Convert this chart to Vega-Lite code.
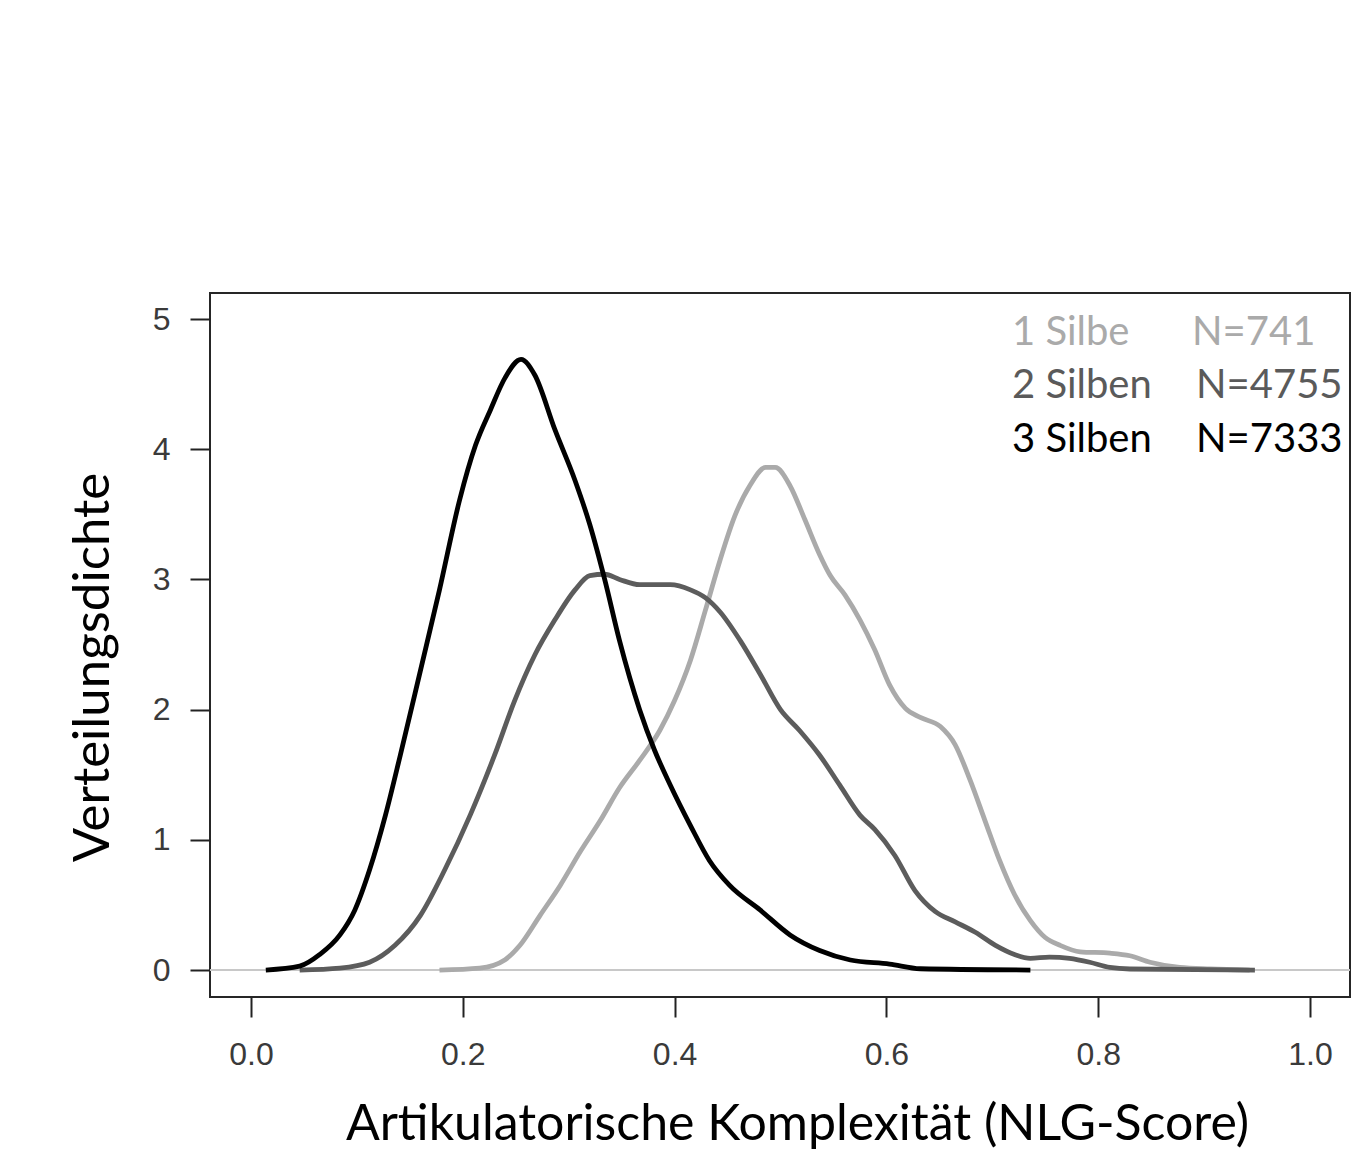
{
  "$schema": "https://vega.github.io/schema/vega-lite/v6.json",
  "width": 1140,
  "height": 704,
  "autosize": {"type": "none"},
  "padding": {"left": 210, "top": 293, "right": 2, "bottom": 155},
  "background": "white",
  "config": {
    "view": {"stroke": "#262626", "strokeWidth": 2},
    "axis": {"grid": false, "domain": false}
  },
  "datasets": {
    "curves": [
      {"x": 0.178, "y": 0, "g": "1 Silbe"},
      {"x": 0.216, "y": 0.015, "g": "1 Silbe"},
      {"x": 0.240, "y": 0.08, "g": "1 Silbe"},
      {"x": 0.254, "y": 0.19, "g": "1 Silbe"},
      {"x": 0.273, "y": 0.42, "g": "1 Silbe"},
      {"x": 0.292, "y": 0.65, "g": "1 Silbe"},
      {"x": 0.311, "y": 0.91, "g": "1 Silbe"},
      {"x": 0.330, "y": 1.15, "g": "1 Silbe"},
      {"x": 0.348, "y": 1.40, "g": "1 Silbe"},
      {"x": 0.367, "y": 1.61, "g": "1 Silbe"},
      {"x": 0.386, "y": 1.84, "g": "1 Silbe"},
      {"x": 0.400, "y": 2.07, "g": "1 Silbe"},
      {"x": 0.415, "y": 2.38, "g": "1 Silbe"},
      {"x": 0.429, "y": 2.76, "g": "1 Silbe"},
      {"x": 0.443, "y": 3.15, "g": "1 Silbe"},
      {"x": 0.457, "y": 3.49, "g": "1 Silbe"},
      {"x": 0.471, "y": 3.72, "g": "1 Silbe"},
      {"x": 0.486, "y": 3.86, "g": "1 Silbe"},
      {"x": 0.495, "y": 3.86, "g": "1 Silbe"},
      {"x": 0.509, "y": 3.72, "g": "1 Silbe"},
      {"x": 0.523, "y": 3.46, "g": "1 Silbe"},
      {"x": 0.537, "y": 3.19, "g": "1 Silbe"},
      {"x": 0.547, "y": 3.03, "g": "1 Silbe"},
      {"x": 0.561, "y": 2.88, "g": "1 Silbe"},
      {"x": 0.575, "y": 2.69, "g": "1 Silbe"},
      {"x": 0.589, "y": 2.46, "g": "1 Silbe"},
      {"x": 0.603, "y": 2.19, "g": "1 Silbe"},
      {"x": 0.618, "y": 2.01, "g": "1 Silbe"},
      {"x": 0.632, "y": 1.94, "g": "1 Silbe"},
      {"x": 0.651, "y": 1.87, "g": "1 Silbe"},
      {"x": 0.665, "y": 1.73, "g": "1 Silbe"},
      {"x": 0.679, "y": 1.46, "g": "1 Silbe"},
      {"x": 0.693, "y": 1.15, "g": "1 Silbe"},
      {"x": 0.707, "y": 0.84, "g": "1 Silbe"},
      {"x": 0.721, "y": 0.58, "g": "1 Silbe"},
      {"x": 0.736, "y": 0.38, "g": "1 Silbe"},
      {"x": 0.750, "y": 0.25, "g": "1 Silbe"},
      {"x": 0.764, "y": 0.19, "g": "1 Silbe"},
      {"x": 0.783, "y": 0.14, "g": "1 Silbe"},
      {"x": 0.811, "y": 0.13, "g": "1 Silbe"},
      {"x": 0.830, "y": 0.11, "g": "1 Silbe"},
      {"x": 0.849, "y": 0.06, "g": "1 Silbe"},
      {"x": 0.877, "y": 0.02, "g": "1 Silbe"},
      {"x": 0.906, "y": 0.008, "g": "1 Silbe"},
      {"x": 0.943, "y": 0, "g": "1 Silbe"},

      {"x": 0.046, "y": 0, "g": "2 Silben"},
      {"x": 0.084, "y": 0.015, "g": "2 Silben"},
      {"x": 0.112, "y": 0.06, "g": "2 Silben"},
      {"x": 0.136, "y": 0.19, "g": "2 Silben"},
      {"x": 0.160, "y": 0.42, "g": "2 Silben"},
      {"x": 0.183, "y": 0.77, "g": "2 Silben"},
      {"x": 0.207, "y": 1.19, "g": "2 Silben"},
      {"x": 0.230, "y": 1.65, "g": "2 Silben"},
      {"x": 0.249, "y": 2.07, "g": "2 Silben"},
      {"x": 0.268, "y": 2.42, "g": "2 Silben"},
      {"x": 0.287, "y": 2.69, "g": "2 Silben"},
      {"x": 0.306, "y": 2.92, "g": "2 Silben"},
      {"x": 0.320, "y": 3.03, "g": "2 Silben"},
      {"x": 0.334, "y": 3.04, "g": "2 Silben"},
      {"x": 0.348, "y": 3.00, "g": "2 Silben"},
      {"x": 0.367, "y": 2.96, "g": "2 Silben"},
      {"x": 0.396, "y": 2.96, "g": "2 Silben"},
      {"x": 0.415, "y": 2.92, "g": "2 Silben"},
      {"x": 0.429, "y": 2.86, "g": "2 Silben"},
      {"x": 0.443, "y": 2.75, "g": "2 Silben"},
      {"x": 0.462, "y": 2.53, "g": "2 Silben"},
      {"x": 0.481, "y": 2.27, "g": "2 Silben"},
      {"x": 0.500, "y": 2.00, "g": "2 Silben"},
      {"x": 0.518, "y": 1.84, "g": "2 Silben"},
      {"x": 0.537, "y": 1.65, "g": "2 Silben"},
      {"x": 0.556, "y": 1.42, "g": "2 Silben"},
      {"x": 0.575, "y": 1.19, "g": "2 Silben"},
      {"x": 0.589, "y": 1.08, "g": "2 Silben"},
      {"x": 0.608, "y": 0.88, "g": "2 Silben"},
      {"x": 0.627, "y": 0.61, "g": "2 Silben"},
      {"x": 0.646, "y": 0.45, "g": "2 Silben"},
      {"x": 0.665, "y": 0.37, "g": "2 Silben"},
      {"x": 0.684, "y": 0.29, "g": "2 Silben"},
      {"x": 0.703, "y": 0.19, "g": "2 Silben"},
      {"x": 0.721, "y": 0.12, "g": "2 Silben"},
      {"x": 0.736, "y": 0.09, "g": "2 Silben"},
      {"x": 0.754, "y": 0.10, "g": "2 Silben"},
      {"x": 0.773, "y": 0.09, "g": "2 Silben"},
      {"x": 0.792, "y": 0.06, "g": "2 Silben"},
      {"x": 0.811, "y": 0.02, "g": "2 Silben"},
      {"x": 0.830, "y": 0.008, "g": "2 Silben"},
      {"x": 0.948, "y": 0, "g": "2 Silben"},

      {"x": 0.014, "y": 0, "g": "3 Silben"},
      {"x": 0.046, "y": 0.03, "g": "3 Silben"},
      {"x": 0.065, "y": 0.12, "g": "3 Silben"},
      {"x": 0.084, "y": 0.27, "g": "3 Silben"},
      {"x": 0.098, "y": 0.46, "g": "3 Silben"},
      {"x": 0.112, "y": 0.77, "g": "3 Silben"},
      {"x": 0.127, "y": 1.19, "g": "3 Silben"},
      {"x": 0.141, "y": 1.65, "g": "3 Silben"},
      {"x": 0.160, "y": 2.30, "g": "3 Silben"},
      {"x": 0.178, "y": 2.92, "g": "3 Silben"},
      {"x": 0.197, "y": 3.61, "g": "3 Silben"},
      {"x": 0.212, "y": 4.03, "g": "3 Silben"},
      {"x": 0.226, "y": 4.30, "g": "3 Silben"},
      {"x": 0.240, "y": 4.55, "g": "3 Silben"},
      {"x": 0.255, "y": 4.69, "g": "3 Silben"},
      {"x": 0.268, "y": 4.57, "g": "3 Silben"},
      {"x": 0.287, "y": 4.15, "g": "3 Silben"},
      {"x": 0.306, "y": 3.76, "g": "3 Silben"},
      {"x": 0.320, "y": 3.42, "g": "3 Silben"},
      {"x": 0.334, "y": 3.00, "g": "3 Silben"},
      {"x": 0.348, "y": 2.53, "g": "3 Silben"},
      {"x": 0.367, "y": 2.00, "g": "3 Silben"},
      {"x": 0.381, "y": 1.69, "g": "3 Silben"},
      {"x": 0.396, "y": 1.42, "g": "3 Silben"},
      {"x": 0.415, "y": 1.11, "g": "3 Silben"},
      {"x": 0.433, "y": 0.84, "g": "3 Silben"},
      {"x": 0.452, "y": 0.65, "g": "3 Silben"},
      {"x": 0.481, "y": 0.46, "g": "3 Silben"},
      {"x": 0.509, "y": 0.27, "g": "3 Silben"},
      {"x": 0.537, "y": 0.15, "g": "3 Silben"},
      {"x": 0.566, "y": 0.077, "g": "3 Silben"},
      {"x": 0.603, "y": 0.046, "g": "3 Silben"},
      {"x": 0.632, "y": 0.01, "g": "3 Silben"},
      {"x": 0.736, "y": 0, "g": "3 Silben"}
    ]
  },
  "layer": [
    {
      "data": {"values": [{}]},
      "mark": {"type": "rule", "color": "#c8c8c8", "strokeWidth": 2},
      "encoding": {"y": {"datum": 0, "type": "quantitative"}}
    },
    {
      "data": {"name": "curves"},
      "mark": {"type": "line", "strokeWidth": 4.8, "interpolate": "monotone"},
      "encoding": {
        "x": {
          "field": "x", "type": "quantitative",
          "scale": {"domain": [-0.0387, 1.0378], "nice": false, "zero": false},
          "axis": {
            "values": [0, 0.2, 0.4, 0.6, 0.8, 1.0], "format": ".1f",
            "tickSize": 20, "tickWidth": 2, "tickColor": "#222",
            "labelFont": "Liberation Sans", "labelFontSize": 32, "labelColor": "#3a3a3a",
            "labelPadding": 22,
            "title": "Artikulatorische Komplexität (NLG-Score)",
            "titleFont": "Lato", "titleFontSize": 50, "titleFontWeight": "normal", "titleColor": "#000",
            "titleBaseline": "alphabetic", "titleX": 587, "titleY": 142, "titleAnchor": "middle", "titleAlign": "center"
          }
        },
        "y": {
          "field": "y", "type": "quantitative",
          "scale": {"domain": [-0.207, 5.2], "nice": false, "zero": false},
          "axis": {
            "values": [0, 1, 2, 3, 4, 5], "format": "d",
            "tickSize": 20, "tickWidth": 2, "tickColor": "#222",
            "labelFont": "Liberation Sans", "labelFontSize": 32, "labelColor": "#3a3a3a",
            "labelPadding": 20,
            "title": "Verteilungsdichte",
            "titleFont": "Lato", "titleFontSize": 51, "titleFontWeight": "normal", "titleColor": "#000",
            "titleBaseline": "alphabetic", "titleAngle": -90, "titleX": -102, "titleY": 374, "titleAlign": "center"
          }
        },
        "color": {
          "field": "g", "type": "nominal",
          "scale": {"domain": ["1 Silbe", "2 Silben", "3 Silben"], "range": ["#aaaaaa", "#5c5c5c", "#000000"]},
          "legend": null
        },
        "order": {"field": "x", "type": "quantitative"}
      }
    },
    {
      "data": {"values": [{}]},
      "mark": {"type": "text", "text": "1 Silbe", "font": "Lato", "fontSize": 40, "fill": "#aaaaaa", "align": "left", "baseline": "alphabetic"},
      "encoding": {"x": {"datum": 0.7186, "type": "quantitative"}, "y": {"datum": 4.8, "type": "quantitative"}}
    },
    {
      "data": {"values": [{}]},
      "mark": {"type": "text", "text": "2 Silben", "font": "Lato", "fontSize": 40, "fill": "#5a5a5a", "align": "left", "baseline": "alphabetic"},
      "encoding": {"x": {"datum": 0.7186, "type": "quantitative"}, "y": {"datum": 4.39, "type": "quantitative"}}
    },
    {
      "data": {"values": [{}]},
      "mark": {"type": "text", "text": "3 Silben", "font": "Lato", "fontSize": 40, "fill": "#000000", "align": "left", "baseline": "alphabetic"},
      "encoding": {"x": {"datum": 0.7186, "type": "quantitative"}, "y": {"datum": 3.98, "type": "quantitative"}}
    },
    {
      "data": {"values": [{}]},
      "mark": {"type": "text", "text": "N=741", "font": "Lato", "fontSize": 40, "fill": "#aaaaaa", "align": "left", "baseline": "alphabetic"},
      "encoding": {"x": {"datum": 0.8886, "type": "quantitative"}, "y": {"datum": 4.8, "type": "quantitative"}}
    },
    {
      "data": {"values": [{}]},
      "mark": {"type": "text", "text": "N=4755", "font": "Lato", "fontSize": 40, "fill": "#5a5a5a", "align": "left", "baseline": "alphabetic"},
      "encoding": {"x": {"datum": 0.8924, "type": "quantitative"}, "y": {"datum": 4.39, "type": "quantitative"}}
    },
    {
      "data": {"values": [{}]},
      "mark": {"type": "text", "text": "N=7333", "font": "Lato", "fontSize": 40, "fill": "#000000", "align": "left", "baseline": "alphabetic"},
      "encoding": {"x": {"datum": 0.8924, "type": "quantitative"}, "y": {"datum": 3.98, "type": "quantitative"}}
    }
  ]
}
